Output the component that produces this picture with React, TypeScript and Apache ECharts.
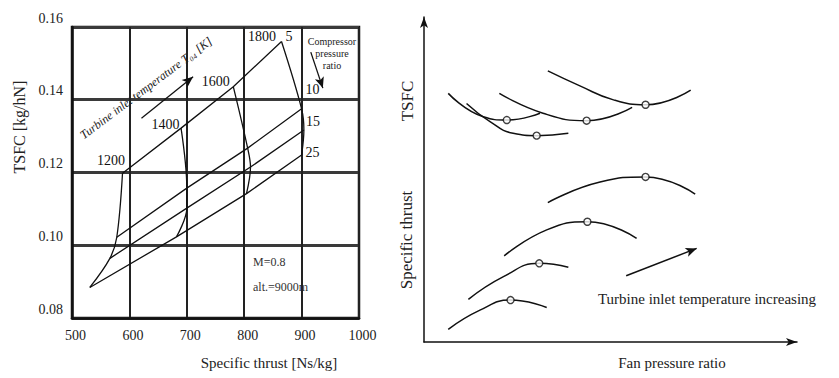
import React, { useEffect, useRef } from "react";
import * as echarts from "echarts";

// ---------- Left panel: carpet plot (TSFC vs specific thrust) ----------
const temps = [1200, 1400, 1600, 1800];
const pressureRatios = [5, 10, 15, 25];
const thrustPR5 = [588, 690, 781, 865];
const tsfcPR5 = [0.1198, 0.1322, 0.1436, 0.156];
const thrustPR10 = [578, 700, 806, 900];
const tsfcPR10 = [0.1022, 0.1157, 0.1267, 0.1375];
const thrustPR15 = [566, 700, 811, 904];
const tsfcPR15 = [0.0964, 0.1102, 0.1215, 0.1317];
const thrustPR25 = [531, 682, 804, 900];
const tsfcPR25 = [0.0884, 0.1023, 0.1142, 0.1248];
const xTicks = [500, 600, 700, 800, 900, 1000];
const yTicks = [0.08, 0.1, 0.12, 0.14, 0.16];

// ---------- Right panel: schematic ----------
const tsfcCurveA = [[6.5, 76.5], [15.9, 69.3], [22.2, 68.3], [31.1, 70.4]];
const tsfcCurveB = [[11.4, 73.4], [17.7, 67.8], [23.9, 64.2], [30.2, 63.5], [38.7, 64.2]];
const tsfcCurveC = [[20.2, 76.5], [31.9, 70.4], [43.6, 68.1], [55.8, 72.2]];
const tsfcCurveD = [[33.2, 83.4], [41.8, 78.8], [50.8, 74.5], [59.4, 73.0], [71.5, 77.5]];
const thrustCurve1 = [[6.5, 3.9], [15.0, 9.8], [23.2, 12.9], [32.9, 10.6]];
const thrustCurve2 = [[11.9, 13.1], [21.3, 20.1], [30.9, 24.2], [38.7, 23.0]];
const thrustCurve3 = [[21.5, 26.5], [32.9, 34.5], [43.8, 37.0], [57.0, 31.9]];
const thrustCurve4 = [[33.2, 42.9], [47.2, 49.2], [59.4, 50.8], [72.7, 45.5]];
const tsfcOptima = [[22.2, 68.3], [30.2, 63.5], [43.6, 68.1], [59.4, 73.0]];
const thrustOptima = [[23.2, 12.9], [30.9, 24.2], [43.8, 37.0], [59.4, 50.8]];

// annotation arrows (data coordinates)
const tempArrow = [[621, 0.1349], [711, 0.1463]];
const prArrow = [[916, 0.1531], [937, 0.1432]];
const tempIncArrow = [[54.2, 20.4], [73.1, 28.8]];

const FONT = '"Liberation Serif", "Times New Roman", serif';
const INK = "#111";

const tempLabelOffsets = [[3, -13], [-1, -4], [-3, -5], [-5, -5]];
const prLabelStyle = [
  { distance: 4, offset: [0, -5] },
  { distance: 4, offset: [0, -19] },
  { distance: 2, offset: [0, -8] },
  { distance: 4, offset: [0, -3] },
];

export default function App() {
  const ref = useRef<HTMLDivElement>(null);

  useEffect(() => {
    const chart = echarts.init(ref.current!, null, { renderer: "svg" });
    const prThrust = [thrustPR5, thrustPR10, thrustPR15, thrustPR25];
    const prTsfc = [tsfcPR5, tsfcPR10, tsfcPR15, tsfcPR25];

    const series: any[] = [];

    pressureRatios.forEach((pr, k) => {
      series.push({
        type: "line",
        xAxisIndex: 0,
        yAxisIndex: 0,
        silent: true,
        symbol: "none",
        data: temps.map((_, i) => [prThrust[k][i], prTsfc[k][i]]),
        lineStyle: { color: INK, width: 1.3 },
        endLabel: {
          show: true,
          formatter: String(pr),
          fontFamily: FONT,
          fontSize: 14,
          color: INK,
          distance: prLabelStyle[k].distance,
          offset: prLabelStyle[k].offset,
        },
        markLine:
          k === 0
            ? {
                silent: true,
                symbol: ["none", "arrow"],
                symbolSize: [7, 11],
                label: { show: false },
                lineStyle: { color: INK, width: 1.3, type: "solid" },
                data: [
                  [{ coord: tempArrow[0] }, { coord: tempArrow[1] }],
                  [{ coord: prArrow[0] }, { coord: prArrow[1] }],
                ],
              }
            : undefined,
      });
    });

    temps.forEach((t, i) => {
      series.push({
        type: "line",
        xAxisIndex: 0,
        yAxisIndex: 0,
        silent: true,
        smooth: 0.35,
        symbol: "circle",
        symbolSize: 1,
        itemStyle: { color: "rgba(0,0,0,0)" },
        lineStyle: { color: INK, width: 1.3 },
        data: pressureRatios.map((_, k) => {
          const v = [prThrust[k][i], prTsfc[k][i]];
          if (k === 0) {
            return {
              value: v,
              label: {
                show: true,
                formatter: String(t),
                position: "left",
                distance: 0,
                offset: tempLabelOffsets[i],
                fontFamily: FONT,
                fontSize: 14,
                color: INK,
              },
            };
          }
          return v;
        }),
      });
    });

    const rightCurves = [
      tsfcCurveA,
      tsfcCurveB,
      tsfcCurveC,
      tsfcCurveD,
      thrustCurve1,
      thrustCurve2,
      thrustCurve3,
      thrustCurve4,
    ];
    rightCurves.forEach((c, idx) => {
      series.push({
        type: "line",
        xAxisIndex: 1,
        yAxisIndex: 1,
        silent: true,
        smooth: 0.5,
        symbol: "none",
        data: c,
        lineStyle: { color: INK, width: 1.5 },
        markLine:
          idx === 4
            ? {
                silent: true,
                symbol: ["none", "arrow"],
                symbolSize: [7, 11],
                label: { show: false },
                lineStyle: { color: INK, width: 1.5, type: "solid" },
                data: [[{ coord: tempIncArrow[0] }, { coord: tempIncArrow[1] }]],
              }
            : undefined,
      });
    });
    [tsfcOptima, thrustOptima].forEach((pts) => {
      series.push({
        type: "scatter",
        xAxisIndex: 1,
        yAxisIndex: 1,
        silent: true,
        symbol: "circle",
        symbolSize: 7,
        data: pts,
        itemStyle: { color: "#fff", borderColor: INK, borderWidth: 1.4 },
        z: 5,
      });
    });

    const option: any = {
      animation: false,
      backgroundColor: "#fff",
      textStyle: { fontFamily: FONT },
      grid: [
        {
          left: 72,
          top: 27,
          width: 287,
          height: 291,
          show: true,
          borderColor: INK,
          borderWidth: 2.5,
          backgroundColor: "transparent",
        },
        { left: 424, top: 17, width: 373, height: 325 },
      ],
      xAxis: [
        {
          gridIndex: 0,
          type: "value",
          min: xTicks[0],
          max: xTicks[xTicks.length - 1],
          interval: 100,
          axisLine: { show: true, lineStyle: { color: INK, width: 2.5 } },
          axisTick: { show: false },
          axisLabel: {
            color: "#222",
            fontFamily: FONT,
            fontSize: 14,
            margin: 10,
            padding: [0, 0, 0, 7],
            formatter: (v: number) => String(v),
          },
          splitLine: { show: true, lineStyle: { color: "#222", width: 2 } },
        },
        {
          gridIndex: 1,
          type: "value",
          min: 0,
          max: 100,
          axisLine: {
            show: true,
            symbol: ["none", "arrow"],
            symbolSize: [6, 11],
            lineStyle: { color: INK, width: 1.5 },
          },
          axisTick: { show: false },
          axisLabel: { show: false },
          splitLine: { show: false },
        },
      ],
      yAxis: [
        {
          gridIndex: 0,
          type: "value",
          min: yTicks[0],
          max: yTicks[yTicks.length - 1],
          interval: 0.02,
          axisLine: { show: true, lineStyle: { color: INK, width: 2.5 } },
          axisTick: { show: false },
          axisLabel: {
            color: "#222",
            fontFamily: FONT,
            fontSize: 14,
            margin: 9,
            verticalAlign: "bottom",
            padding: [0, 0, 2, 0],
            formatter: (v: number) => v.toFixed(2),
          },
          splitLine: { show: true, lineStyle: { color: "#3a3a3a", width: 3 } },
        },
        {
          gridIndex: 1,
          type: "value",
          min: 0,
          max: 100,
          axisLine: {
            show: true,
            symbol: ["none", "arrow"],
            symbolSize: [6, 11],
            lineStyle: { color: INK, width: 1.5 },
          },
          axisTick: { show: false },
          axisLabel: { show: false },
          splitLine: { show: false },
        },
      ],
      graphic: [
        {
          type: "text",
          x: 269,
          y: 363,
          style: {
            text: "Specific thrust [Ns/kg]",
            font: `15px ${FONT}`,
            fill: "#222",
            textAlign: "center",
            textVerticalAlign: "middle",
          },
        },
        {
          type: "text",
          x: 19,
          y: 127,
          rotation: Math.PI / 2,
          style: {
            text: "TSFC [kg/hN]",
            font: `16px ${FONT}`,
            fill: "#222",
            textAlign: "center",
            textVerticalAlign: "middle",
          },
        },
        {
          type: "text",
          x: 146,
          y: 88,
          rotation: (36.8 * Math.PI) / 180,
          style: {
            text: "Turbine inlet temperature T₀₄ [K]",
            font: `italic 12px ${FONT}`,
            fill: "#222",
            textAlign: "center",
            textVerticalAlign: "middle",
          },
        },
        {
          type: "text",
          x: 332,
          y: 53,
          style: {
            text: "Compressor\npressure\nratio",
            font: `10px ${FONT}`,
            lineHeight: 12,
            fill: "#222",
            textAlign: "center",
            textVerticalAlign: "middle",
          },
        },
        {
          type: "text",
          x: 253,
          y: 262,
          style: {
            text: "M=0.8",
            font: `12px ${FONT}`,
            fill: "#333",
            textAlign: "left",
            textVerticalAlign: "middle",
          },
        },
        {
          type: "text",
          x: 253,
          y: 287,
          style: {
            text: "alt.=9000m",
            font: `12px ${FONT}`,
            fill: "#333",
            textAlign: "left",
            textVerticalAlign: "middle",
          },
        },
        {
          type: "text",
          x: 407,
          y: 101,
          rotation: Math.PI / 2,
          style: {
            text: "TSFC",
            font: `17px ${FONT}`,
            fill: "#222",
            textAlign: "center",
            textVerticalAlign: "middle",
          },
        },
        {
          type: "text",
          x: 406,
          y: 240,
          rotation: Math.PI / 2,
          style: {
            text: "Specific thrust",
            font: `17px ${FONT}`,
            fill: "#222",
            textAlign: "center",
            textVerticalAlign: "middle",
          },
        },
        {
          type: "text",
          x: 672,
          y: 363,
          style: {
            text: "Fan pressure ratio",
            font: `15px ${FONT}`,
            fill: "#222",
            textAlign: "center",
            textVerticalAlign: "middle",
          },
        },
        {
          type: "text",
          x: 707,
          y: 299,
          style: {
            text: "Turbine inlet temperature increasing",
            font: `15px ${FONT}`,
            fill: "#222",
            textAlign: "center",
            textVerticalAlign: "middle",
          },
        },
      ],
      series,
    };

    chart.setOption(option);
    return () => chart.dispose();
  }, []);

  return (
    <div
      ref={ref}
      style={{ position: "fixed", left: 0, top: 0, width: 839, height: 378, background: "#fff" }}
    />
  );
}
